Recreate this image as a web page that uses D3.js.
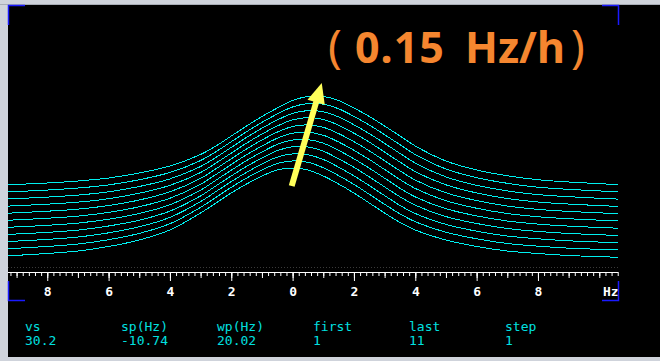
<!DOCTYPE html>
<html>
<head>
<meta charset="utf-8">
<script src="https://cdn.jsdelivr.net/npm/d3@7"></script>
<style>
  body { margin: 0; background: #000; }
  svg { display: block; }
</style>
</head>
<body>
<svg id="chart" width="660" height="361"></svg>
<script>
// acquisition / display parameters
const paramNames = ["vs", "sp(Hz)", "wp(Hz)", "first", "last", "step"];
const paramValues = ["30.2", "-10.74", "20.02", "1", "11", "1"];
const sp = -10.74, wp = 20.02;

// frequency grid (Hz) the spectra are sampled on
const freqHz = [9.28, 8, 7, 6, 5, 4, 3, 2.5, 2, 1.5, 1, 0.5, 0, -0.5, -1, -1.5, -2, -2.5, -3, -3.5, -4, -5, -6, -7, -8, -9, -10.74];

// intensities, spectrum 1 (bottom) .. 11 (top)
const trace01 = [2.2, 4.5, 7.0, 11.5, 18, 28, 45, 55, 65, 74, 82, 88, 90, 88, 82, 74, 65, 55, 45, 35.5, 28, 18, 11.5, 7, 4.5, 2.5, 0.65];
const trace02 = [2.1, 4.35, 6.8, 11.1, 17.4, 27.1, 43.5, 53.5, 63.5, 72.7, 80.8, 87.3, 89.9, 88.5, 83.1, 75.2, 66.4, 56.5, 46.5, 36.9, 29.1, 18.6, 12.0, 7.3, 4.65, 2.65, 0.7];
const trace03 = [2.1, 4.2, 6.55, 10.75, 16.8, 26.2, 42, 52, 62, 71.3, 79.6, 86.5, 89.7, 88.9, 84.1, 76.4, 67.7, 58, 48, 38.2, 30.1, 19.2, 12.4, 7.6, 4.8, 2.8, 0.75];
const trace04 = [2.0, 4.05, 6.3, 10.4, 16.2, 25.3, 40.5, 50.5, 60.5, 70, 78.4, 85.8, 89.6, 89.4, 85.2, 77.6, 69.1, 59.5, 49.5, 39.6, 31.2, 19.8, 12.9, 7.9, 4.95, 2.95, 0.8];
const trace05 = [1.9, 3.9, 6.1, 10.0, 15.7, 24.5, 39.1, 49, 59, 68.6, 77.2, 84.8, 89.2, 89.6, 86, 78.8, 70.4, 61, 51, 41, 32.3, 20.5, 13.3, 8.2, 5.1, 3.1, 0.85];
const trace06 = [1.75, 3.75, 5.9, 9.6, 15.25, 23.75, 37.75, 47.5, 57.5, 67.3, 76, 83.75, 88.75, 89.75, 86.75, 80, 71.75, 62.5, 52.5, 42.5, 33.5, 21.25, 13.75, 8.5, 5.25, 3.25, 0.9];
const trace07 = [1.6, 3.6, 5.65, 9.25, 14.8, 23, 36.4, 46, 56, 65.9, 74.8, 82.7, 88.3, 89.9, 87.5, 81.2, 73.1, 64, 54, 44, 34.7, 22, 14.2, 8.8, 5.4, 3.4, 0.95];
const trace08 = [1.5, 3.45, 5.45, 8.9, 14.35, 22.25, 35.1, 44.5, 54.5, 64.5, 73.55, 81.6, 87.75, 89.95, 88.15, 82.35, 74.4, 65.45, 55.5, 45.5, 35.95, 22.75, 14.65, 9.1, 5.6, 3.55, 1.0];
const trace09 = [1.4, 3.3, 5.3, 8.6, 13.9, 21.5, 33.9, 43, 53, 63, 72.2, 80.4, 87, 89.8, 88.6, 83.4, 75.6, 66.8, 57, 47, 37.3, 23.5, 15.1, 9.5, 5.8, 3.7, 1.1];
const trace10 = [1.3, 3.15, 5.15, 8.3, 13.45, 20.75, 32.7, 41.5, 51.5, 61.5, 70.85, 79.2, 86.25, 89.65, 89.05, 84.45, 76.8, 68.15, 58.5, 48.5, 38.65, 24.25, 15.55, 9.9, 6.0, 3.85, 1.15];
const trace11 = [1.2, 3.0, 5.0, 8.0, 13.0, 20.0, 31.5, 40, 50, 60, 69.5, 78, 85.5, 89.5, 89.5, 85.5, 78, 69.5, 60, 50, 40, 25, 16, 10.25, 6.25, 4.0, 1.2];
const traces = [trace01, trace02, trace03, trace04, trace05, trace06, trace07, trace08, trace09, trace10, trace11];

const tickLabels = [8, 6, 4, 2, 0, -2, -4, -6, -8];
const title = ["( ", "0.15 ", "Hz/h", ")"];

const svg = d3.select("#chart");
const W = 660, H = 361;
const cyan = "#00f0f0";

// window frame
svg.append("rect").attr("width", W).attr("height", H).attr("fill", "#000");
svg.append("rect").attr("width", W).attr("height", 5).attr("fill", "#cfd3db");
svg.append("rect").attr("width", 8).attr("height", H).attr("fill", "#cfd3db");
svg.append("rect").attr("y", 357).attr("width", W).attr("height", 4).attr("fill", "#cfd3db");
svg.append("line").attr("x1", 0).attr("x2", W).attr("y1", 4.5).attr("y2", 4.5).attr("stroke", "#a8adb6");

const x = d3.scaleLinear().domain([sp + wp, sp]).range([8, 622]);
const y = d3.scaleLinear().domain([0, 100]).range([258, 158]);
const vo = 7.2; // vertical offset between spectra

svg.append("clipPath").attr("id", "plot")
  .append("rect").attr("x", 8).attr("y", 5).attr("width", 610).attr("height", 262);

// faint dotted line above the scale
svg.append("line")
  .attr("x1", 8).attr("x2", 618).attr("y1", 267.5).attr("y2", 267.5)
  .attr("stroke", "#3a3a3a").attr("stroke-dasharray", "1,2");

const line = d3.line()
  .x((d, i) => x(freqHz[i]))
  .y(d => y(d))
  .curve(d3.curveCatmullRom.alpha(0.5));

svg.append("g").attr("clip-path", "url(#plot)")
  .selectAll("path")
  .data(traces)
  .join("path")
    .attr("transform", (d, k) => "translate(0," + (-vo * k) + ")")
    .attr("d", line)
    .attr("fill", "none")
    .attr("stroke", cyan)
    .attr("stroke-width", 1)
    .attr("shape-rendering", "crispEdges");

// frequency scale
const axisY = 272;
const minor = x.ticks(100).filter(v => x(v) > 9 && x(v) < 618);
const gAxis = svg.append("g").attr("transform", "translate(0," + axisY + ")");
gAxis.call(d3.axisBottom(x).tickValues(minor).tickSize(4).tickSizeOuter(0).tickFormat(""));
gAxis.append("g").call(d3.axisBottom(x).tickValues(minor.filter(v => Math.abs(v - Math.round(v)) < 1e-6)).tickSize(6).tickFormat(""));
gAxis.append("g").call(d3.axisBottom(x).tickValues(tickLabels).tickSize(9).tickFormat(d => Math.abs(d)));
gAxis.selectAll(".domain").attr("d", "M8,0.5H618").attr("stroke", "#fff");
gAxis.selectAll(".tick line").attr("stroke", "#fff");
gAxis.selectAll(".tick text")
  .attr("y", 15).attr("dy", "0.71em")
  .attr("fill", "#fff")
  .style("font", "bold 13px 'DejaVu Sans Mono', monospace");
gAxis.selectAll(".domain").filter((d, i) => i > 0).remove();

svg.append("text")
  .attr("x", 603).attr("y", axisY + 24)
  .attr("fill", "#fff")
  .style("font", "bold 13px 'DejaVu Sans Mono', monospace")
  .text("Hz");

// blue corner brackets of the plot area
const corners = [[8, 5, 1, 1], [619, 5, -1, 1], [8, 301, 1, -1], [619, 301, -1, -1]];
svg.append("g").selectAll("path").data(corners).join("path")
  .attr("d", d => "M" + (d[0] + 17 * d[2]) + "," + (d[1] + 0.5 * d[3]) + "H" + (d[0] + 0.5 * d[2]) + "V" + (d[1] + 20 * d[3]))
  .attr("fill", "none").attr("stroke", "#1a1aff").attr("stroke-width", 1.5);

// parameter panel
const px = d3.scaleLinear().domain([0, 1]).range([25, 121]);
const gp = svg.append("g").style("font", "13px 'DejaVu Sans Mono', monospace").attr("fill", "#00e0e0");
gp.selectAll("text.name").data(paramNames).join("text").attr("class", "name")
  .attr("x", (d, i) => px(i)).attr("y", 331).text(d => d);
gp.selectAll("text.val").data(paramValues).join("text").attr("class", "val")
  .attr("x", (d, i) => px(i)).attr("y", 345).text(d => d);

// drift annotation
const arrowFrom = [0.03, 72], arrowTo = [-0.95, 175];
const ax0 = x(arrowFrom[0]), ay0 = y(arrowFrom[1]);
const ax1 = x(arrowTo[0]), ay1 = y(arrowTo[1]);
const len = Math.hypot(ax1 - ax0, ay1 - ay0);
const ux = (ax1 - ax0) / len, uy = (ay1 - ay0) / len;
const headL = 20, headW = 9;
const bx = ax1 - headL * ux, by = ay1 - headL * uy;
svg.append("line")
  .attr("x1", ax0).attr("y1", ay0).attr("x2", bx + 2 * ux).attr("y2", by + 2 * uy)
  .attr("stroke", "#ffff5a").attr("stroke-width", 6);
svg.append("path")
  .attr("d", "M" + ax1 + "," + ay1 + "L" + (bx - headW * uy) + "," + (by + headW * ux) + "L" + (bx + headW * uy) + "," + (by - headW * ux) + "Z")
  .attr("fill", "#ffff5a");

const t = svg.append("text").attr("y", 63).attr("fill", "#f5862f")
  .style("font-family", "'Noto Sans', 'Open Sans', sans-serif").style("font-size", "43px");
const tx = [328, 355, 465, 571];
t.selectAll("tspan").data(title).join("tspan")
  .attr("x", (d, i) => tx[i])
  .style("font-weight", (d, i) => (i === 0 || i === 3) ? 400 : 700)
  .style("font-size", (d, i) => (i === 0 || i === 3) ? "46px" : "43px")
  .style("letter-spacing", (d, i) => i === 1 ? "1px" : "0px")
  .text(d => d);
</script>
</body>
</html>
